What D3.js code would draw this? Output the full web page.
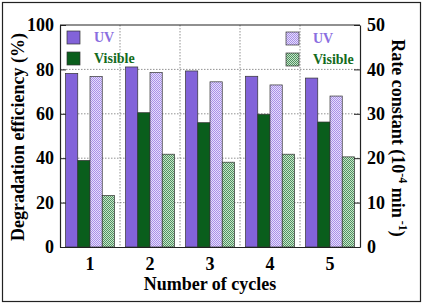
<!DOCTYPE html>
<html>
<head>
<meta charset="utf-8">
<script src="https://cdn.jsdelivr.net/npm/d3@7"></script>
<style>
  html, body { margin: 0; padding: 0; background: #fff; }
  svg { display: block; }
</style>
</head>
<body>
<svg id="chart" width="423" height="305"></svg>
<script>
// Data
const cycles = ['1', '2', '3', '4', '5'];
const effUV = [78.2, 81.1, 79.3, 76.9, 76.1];
const effVis = [39.0, 60.5, 56.0, 59.8, 56.3];
const rateUV = [38.4, 39.3, 37.2, 36.5, 34.0];
const rateVis = [11.6, 20.9, 19.1, 20.9, 20.3];
const leftTicks = [0, 20, 40, 60, 80, 100];
const rightTicks = [0, 10, 20, 30, 40, 50];

const W = 423, H = 305;
const margin = { top: 25, right: 63, bottom: 58, left: 60 };
const PURPLE = '#8263d9', DKGREEN = '#0a5e1c';
const FONT = '"Liberation Serif"';

const svg = d3.select('#chart');

function serif(sel, size) {
    return sel.style('font-family', FONT).style('font-weight', 'bold').style('font-size', size + 'px');
}

// outer frame
svg.append('rect')
    .attr('x', 2.5).attr('y', 2.5)
    .attr('width', W - 5).attr('height', H - 6)
    .attr('fill', 'none').attr('stroke', '#222').attr('stroke-width', 1.2);

// patterns
const defs = svg.append('defs');
function checker(id, c1, c2) {
    const p = defs.append('pattern')
        .attr('id', id).attr('patternUnits', 'userSpaceOnUse')
        .attr('width', 2).attr('height', 2);
    p.append('rect').attr('width', 2).attr('height', 2).attr('fill', c2);
    p.append('rect').attr('width', 1).attr('height', 1).attr('fill', c1);
    p.append('rect').attr('x', 1).attr('y', 1).attr('width', 1).attr('height', 1).attr('fill', c1);
}
checker('patUV', '#a890ea', '#e6defa');
checker('patVis', '#4f9460', '#c8e2cb');

const x0 = d3.scaleBand().domain(cycles)
    .range([margin.left, W - margin.right]).paddingInner(0).paddingOuter(0);
const x1 = d3.scaleBand().domain(['effUV', 'effVis', 'rateUV', 'rateVis'])
    .range([0, x0.bandwidth()]).paddingOuter(0.45).paddingInner(0);
const yL = d3.scaleLinear().domain([0, 100]).range([H - margin.bottom, margin.top]);
const yR = d3.scaleLinear().domain([0, 50]).range([H - margin.bottom, margin.top]);

const plotL = margin.left, plotR = W - margin.right;
const plotT = margin.top, plotB = H - margin.bottom;

// grid lines
const grid = svg.append('g').attr('stroke', '#777').attr('stroke-width', 0.8)
    .attr('stroke-dasharray', '1.5,1.5');
grid.selectAll('line.h').data(leftTicks.slice(1, -1)).join('line')
    .attr('x1', plotL).attr('x2', plotR)
    .attr('y1', (d) => yL(d)).attr('y2', (d) => yL(d));
grid.selectAll('line.v').data(cycles.slice(1)).join('line')
    .attr('x1', (d) => x0(d)).attr('x2', (d) => x0(d))
    .attr('y1', plotT).attr('y2', plotB);

// bars
const series = [
    { key: 'effUV', vals: effUV, y: yL, fill: PURPLE },
    { key: 'effVis', vals: effVis, y: yL, fill: DKGREEN },
    { key: 'rateUV', vals: rateUV, y: yR, fill: 'url(#patUV)' },
    { key: 'rateVis', vals: rateVis, y: yR, fill: 'url(#patVis)' }
];
series.forEach((s) => {
    svg.append('g').selectAll('rect').data(s.vals).join('rect')
        .attr('x', (d, i) => x0(cycles[i]) + x1(s.key))
        .attr('y', (d) => s.y(d))
        .attr('width', x1.bandwidth())
        .attr('height', (d) => plotB - s.y(d))
        .attr('fill', s.fill)
        .attr('stroke', '#333').attr('stroke-width', 0.7);
});

// axes
const axL = svg.append('g').attr('transform', `translate(${plotL},0)`)
    .call(d3.axisLeft(yL).tickValues(leftTicks).tickSizeInner(-6).tickSizeOuter(0).tickPadding(6));
const axR = svg.append('g').attr('transform', `translate(${plotR},0)`)
    .call(d3.axisRight(yR).tickValues(rightTicks).tickSizeInner(-6).tickSizeOuter(0).tickPadding(7));
const axB = svg.append('g').attr('transform', `translate(0,${plotB})`)
    .call(d3.axisBottom(x0).tickSize(0).tickPadding(10));
svg.append('line').attr('x1', plotL).attr('x2', plotR).attr('y1', plotT).attr('y2', plotT)
    .attr('stroke', '#222').attr('stroke-width', 1.2);
[axL, axR, axB].forEach((a) => {
    a.attr('font-family', null).attr('font-size', null);
    a.selectAll('path.domain').attr('stroke', '#222').attr('stroke-width', 1.2);
    a.selectAll('line').attr('stroke', '#222');
    serif(a.selectAll('text'), 18).attr('fill', '#000');
});

// axis titles
serif(svg.append('text'), 18)
    .attr('transform', `translate(24,${(plotT + plotB) / 2 + 1}) rotate(-90)`)
    .attr('text-anchor', 'middle')
    .text('Degradation efficiency (%)');
const rt = serif(svg.append('text'), 18)
    .attr('transform', `translate(392,${(plotT + plotB) / 2 + 2}) rotate(90)`)
    .attr('text-anchor', 'middle');
rt.append('tspan').text('Rate constant (10');
rt.append('tspan').attr('dy', -7).style('font-size', '12px').text('-4');
rt.append('tspan').attr('dy', 7).text(' min');
rt.append('tspan').attr('dy', -7).style('font-size', '12px').text(' -1');
rt.append('tspan').attr('dy', 7).text(')');
serif(svg.append('text'), 18)
    .attr('x', (plotL + plotR) / 2).attr('y', 290)
    .attr('text-anchor', 'middle')
    .text('Number of cycles');

// legends
function legend(x, y, items) {
    items.forEach((it, i) => {
        svg.append('rect')
            .attr('x', x).attr('y', y + i * 21)
            .attr('width', 13).attr('height', 13)
            .attr('fill', it.fill).attr('stroke', '#333').attr('stroke-width', 0.7);
        serif(svg.append('text'), 14)
            .attr('x', x + 27).attr('y', y + i * 21 + 11)
            .attr('fill', it.color)
            .text(it.label);
    });
}
legend(67, 31, [
    { fill: PURPLE, label: 'UV', color: '#8a6ee0' },
    { fill: DKGREEN, label: 'Visible', color: '#136b20' }
]);
legend(286, 32, [
    { fill: 'url(#patUV)', label: 'UV', color: '#8a6ee0' },
    { fill: 'url(#patVis)', label: 'Visible', color: '#136b20' }
]);
</script>
</body>
</html>
